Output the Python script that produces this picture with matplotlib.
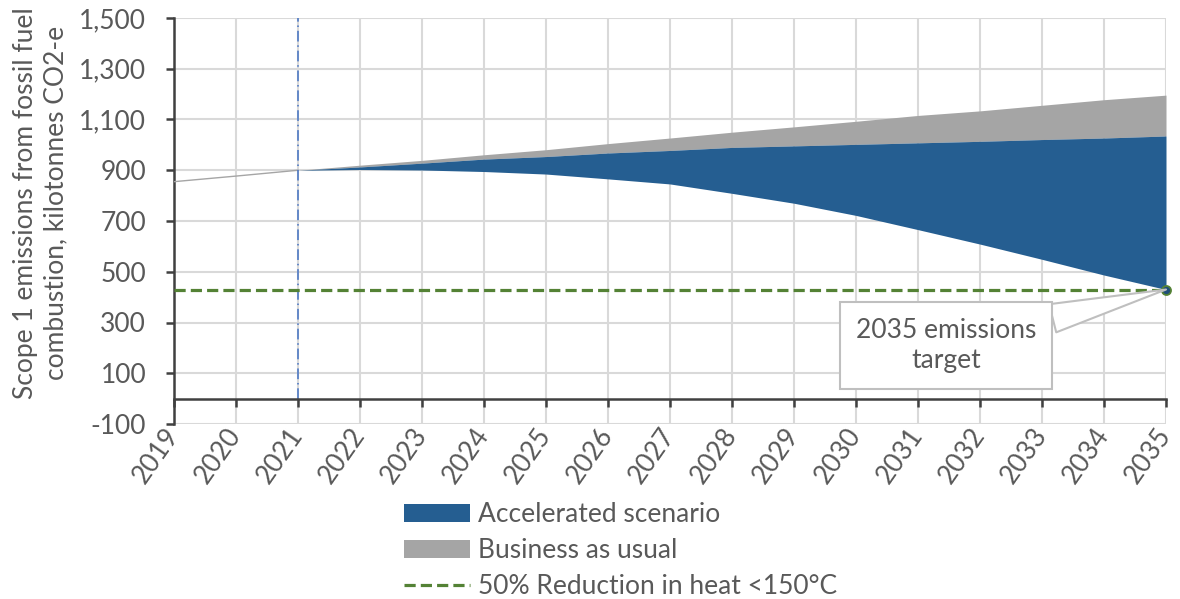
import numpy as np
import matplotlib
matplotlib.use("Agg")
import matplotlib.pyplot as plt

plt.rcParams['font.family'] = ['Lato', 'DejaVu Sans']

# data (kilotonnes CO2-e)
hist_years = [2019, 2020, 2021]
hist_vals = [855, 877, 900]

proj_years = list(range(2021, 2036))
bau_top = [900, 920, 939, 961, 981, 1005, 1027, 1050, 1071, 1093, 1116, 1134, 1156, 1178, 1196]
accel_top = [900, 913, 928, 944, 954, 968, 978, 990, 996, 1002, 1008, 1014, 1021, 1027, 1035]
accel_low = [900, 903, 901, 895, 885, 866, 846, 809, 770, 722, 666, 609, 549, 487, 430]

target = 430
target_year = 2035
base_year = 2021

year_ticks = list(range(2019, 2036))
y_ticks = list(range(-100, 1501, 200))

BLUE = '#255E91'
GREY = '#A5A5A5'
GREEN = '#548235'
TXT = '#595959'
GRID = '#D9D9D9'
FS = 19

fig = plt.figure(figsize=(11.8, 5.99), dpi=100)
ax = fig.add_axes([174/1180, 1 - 424/599, 992/1180, 406/599])

ax.set_xlim(2019, 2035)
ax.set_ylim(-100, 1500)
ax.set_xticks(year_ticks)
ax.set_yticks(y_ticks)
ax.set_yticklabels([f'{v:,}' for v in y_ticks])
ax.grid(True, color=GRID, lw=1.5, zorder=0)
ax.set_axisbelow(True)

# areas
ax.fill_between(proj_years, accel_top, bau_top, color=GREY, lw=0, zorder=2,
                label='Business as usual')
ax.fill_between(proj_years, accel_low, accel_top, color=BLUE, lw=0, zorder=3,
                label='Accelerated scenario')
ax.plot(hist_years, hist_vals, color=GREY, lw=1.0, zorder=3)

# base year marker line
ax.plot([base_year, base_year], [0, 1500], color='#4472C4', lw=1.1,
        linestyle=(0, (7, 2.5, 1, 2.5)), zorder=4)

# target line
ax.plot([2019, 2035], [target, target], color=GREEN, lw=2.3,
        linestyle=(0, (3.5, 1.6)), zorder=5, label='50% Reduction in heat <150°C')
ax.plot([target_year], [target], marker='o', ms=6.5, mfc='#1F4E79', mec=GREEN,
        mew=1.3, zorder=6, clip_on=False)

ax.annotate('2035 emissions\ntarget', xy=(target_year, target), xytext=(2031.45, 210),
            ha='center', va='center', fontsize=FS, color=TXT, linespacing=1.25,
            bbox=dict(boxstyle='square,pad=0.6', fc='white', ec='#BFBFBF', lw=1.5),
            arrowprops=dict(arrowstyle='wedge,tail_width=1.1,shrink_factor=0.5',
                            fc='white', ec='#BFBFBF', lw=1.5, shrinkA=0, shrinkB=0),
            zorder=7)

# spines
for s in ['top', 'right']:
    ax.spines[s].set_visible(False)
ax.spines['left'].set_color('#404040')
ax.spines['left'].set_linewidth(1.8)
ax.spines['bottom'].set_position(('data', 0))
ax.spines['bottom'].set_color('#404040')
ax.spines['bottom'].set_linewidth(1.8)
ax.spines['bottom'].set_zorder(8)

ax.tick_params(axis='y', length=6, width=1.8, color='#404040', labelsize=FS,
               labelcolor=TXT, pad=14)
ax.tick_params(axis='x', length=6, width=1.8, color='#404040', labelsize=FS,
               labelcolor=TXT, pad=17)
for lab in ax.get_xticklabels():
    lab.set_rotation(55)
    lab.set_rotation_mode('anchor')
    lab.set_ha('right')
    lab.set_va('center')

ax.set_ylabel('Scope 1 emissions from fossil fuel\ncombustion, kilotonnes CO2-e',
              fontsize=FS, color=TXT, linespacing=1.25)
ax.yaxis.set_label_coords(-0.107, 0.545)

handles, labels = ax.get_legend_handles_labels()
order = [labels.index('Accelerated scenario'), labels.index('Business as usual'),
         labels.index('50% Reduction in heat <150°C')]
leg = fig.legend([handles[i] for i in order], [labels[i] for i in order],
                 loc='upper left', bbox_to_anchor=(404/1180, 1 - 502/599),
                 frameon=False, fontsize=FS, handlelength=2.5, handletextpad=0.3,
                 labelspacing=0.42, borderpad=0, borderaxespad=0)
for t in leg.get_texts():
    t.set_color(TXT)

fig.savefig('out.png', dpi=100)
